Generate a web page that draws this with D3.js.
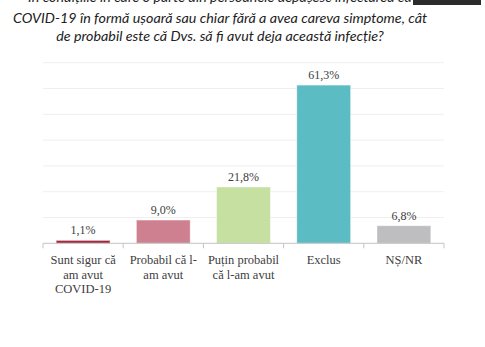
<!DOCTYPE html>
<html><head><meta charset="utf-8">
<script src="https://cdn.jsdelivr.net/npm/d3@7"></script>
<style>body{margin:0;background:#fff}svg{display:block}</style>
</head><body>
<svg id="c" width="485" height="347"></svg>
<script>
const titleLines = [
  "În condițiile în care o parte din persoanele depășesc infectarea cu",
  "COVID-19 în formă ușoară sau chiar fără a avea careva simptome, cât",
  "de probabil este că Dvs. să fi avut deja această infecție?"
];
const categories = [
  ["Sunt sigur că", "am avut", "COVID-19"],
  ["Probabil că l-", "am avut"],
  ["Puțin probabil", "că l-am avut"],
  ["Exclus"],
  ["NȘ/NR"]
];
const values = [1.1, 9.0, 21.8, 61.3, 6.8];
const valueLabels = ["1,1%", "9,0%", "21,8%", "61,3%", "6,8%"];
const colors = ["#a3283f", "#cf8090", "#c5e0a0", "#5bbcc3", "#bebdbf"];
const gridTicks = [0, 10, 20, 30, 40, 50, 60, 70];

const SERIF = '"Liberation Serif", "Times New Roman", serif';
const svg = d3.select("#c");
const pLeft = 43, pRight = 444, pTop = 62.7, pBottom = 243.3;

const x = d3.scaleBand().domain(d3.range(values.length)).range([pLeft, pRight]).paddingInner(0.33).paddingOuter(0.165);
const y = d3.scaleLinear().domain([0, 70]).range([pBottom, pTop]);

// gridlines
svg.append("g").selectAll("line").data(gridTicks.slice(1)).join("line")
  .attr("x1", pLeft).attr("x2", pRight)
  .attr("y1", d => y(d)).attr("y2", d => y(d))
  .attr("stroke", "#efefef").attr("stroke-width", 1);

// bars
svg.append("g").selectAll("rect").data(values).join("rect")
  .attr("x", (d, i) => x(i)).attr("width", x.bandwidth())
  .attr("y", d => y(d)).attr("height", d => pBottom - y(d))
  .attr("fill", (d, i) => colors[i])
  .attr("stroke", "#ffffff").attr("stroke-opacity", 0.35).attr("stroke-width", 1);

// axis baseline and ticks
const bounds = d3.range(values.length + 1).map(i => pLeft + i * (pRight - pLeft) / values.length);
svg.append("line").attr("x1", pLeft).attr("x2", pRight).attr("y1", pBottom).attr("y2", pBottom)
  .attr("stroke", "#c4c4c4").attr("stroke-width", 1);
svg.append("g").selectAll("line").data(bounds).join("line")
  .attr("x1", d => d).attr("x2", d => d).attr("y1", pBottom).attr("y2", pBottom + 5)
  .attr("stroke", "#c4c4c4").attr("stroke-width", 1);

// value labels
svg.append("g").selectAll("text").data(values).join("text")
  .style("font-family", SERIF)
  .attr("x", (d, i) => x(i) + x.bandwidth() / 2)
  .attr("y", d => y(d) - 6)
  .attr("text-anchor", "middle")
  .attr("font-size", 12).attr("fill", "#404040")
  .text((d, i) => valueLabels[i]);

// category labels
const cat = svg.append("g").selectAll("text").data(categories).join("text")
  .style("font-family", SERIF)
  .attr("text-anchor", "middle")
  .attr("font-size", 12.5).attr("fill", "#404040");
cat.each(function(lines, i) {
  d3.select(this).selectAll("tspan").data(lines).join("tspan")
    .attr("x", x(i) + x.bandwidth() / 2)
    .attr("y", (d, j) => 264 + j * 14.5)
    .text(d => d);
});

// title
svg.append("g").selectAll("text").data(titleLines).join("text")
  .style("font-family", '"Lato", "Open Sans", sans-serif')
  .style("font-style", "italic")
  .attr("x", 220).attr("y", (d, i) => 1.5 + i * 18.5 + (i > 0 ? 2.5 : 0))
  .attr("text-anchor", "middle")
  .attr("font-size", 14.3).attr("fill", "#222222")
  .text(d => d);

// dark overlay top-right (screenshot artifact)
svg.append("rect").attr("x", 413).attr("y", 0).attr("width", 68).attr("height", 5).attr("fill", "#2b2b2b");
</script>
</body></html>
